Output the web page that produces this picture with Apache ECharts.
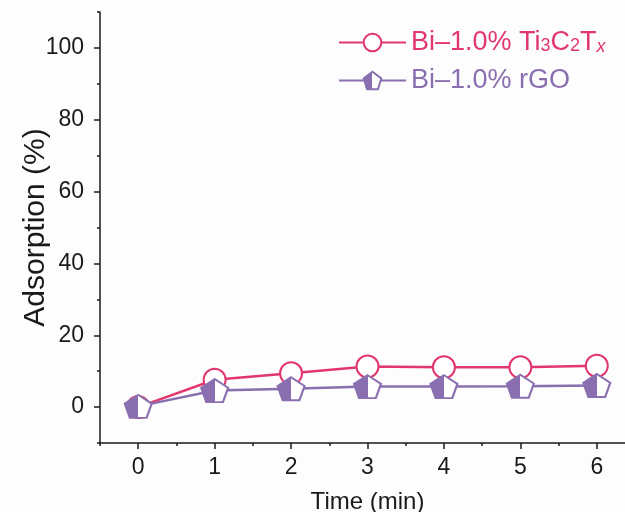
<!DOCTYPE html>
<html>
<head>
<meta charset="utf-8">
<script src="https://cdn.jsdelivr.net/npm/echarts@6/dist/echarts.min.js"></script>
<style>
  html, body { margin: 0; padding: 0; background: #fdfdfd; }
  #chart { width: 625px; height: 512px; }
</style>
</head>
<body>
<div id="chart"></div>
<script>
var timeMin = [0, 1, 2, 3, 4, 5, 6];
var tiValues = [0, 7.6, 9.4, 11.3, 11.1, 11.1, 11.5];
var rgoValues = [0.2, 4.6, 5.1, 5.7, 5.7, 5.8, 6.0];
var yMajorTicks = [0, 20, 40, 60, 80, 100];
var xMajorTicks = [0, 1, 2, 3, 4, 5, 6];

var red = '#e2366f';
var purple = '#8a6fb0';
var axisColor = '#1a1a1a';
var font = 'Liberation Sans, Arial, sans-serif';
var pentagon = 'path://M0,-1L0.951,-0.309L0.588,0.809L-0.588,0.809L-0.951,-0.309Z';

var G = { left: 100, top: 12, width: 535, height: 431 };
var X_MIN = -0.5, X_MAX = 6.5, Y_MIN = -10, Y_MAX = 110;

function pairs(xs, ys) {
    return xs.map(function (x, i) { return [x, ys[i]]; });
}

// the main axes carry the short ticks (they start at min); a second grid that
// covers only 0..6 / 0..100 carries the long ticks at the labelled values
var px = G.width / (X_MAX - X_MIN);
var py = G.height / (Y_MAX - Y_MIN);
var xFirst = xMajorTicks[0], xLast = xMajorTicks[xMajorTicks.length - 1];
var yFirst = yMajorTicks[0], yLast = yMajorTicks[yMajorTicks.length - 1];
var tickGrid = {
    left: G.left + (xFirst - X_MIN) * px,
    width: (xLast - xFirst) * px,
    top: G.top + (Y_MAX - yLast) * py,
    height: (yLast - yFirst) * py,
    containLabel: false,
    outerBoundsMode: 'none'
};
var longTick = { show: true, length: 6, lineStyle: { color: axisColor, width: 1.5 } };

var chart = echarts.init(document.getElementById('chart'));
chart.setOption({
    backgroundColor: '#fdfdfd',
    animation: false,
    textStyle: { fontFamily: font },
    grid: [
        Object.assign({ containLabel: false, outerBoundsMode: 'none' }, G),
        tickGrid
    ],
    legend: {
        orient: 'vertical',
        left: 333,
        top: 24,
        itemWidth: 67,
        itemHeight: 22,
        itemGap: 11,
        data: [
            { name: 'ti', textStyle: { color: red } },
            { name: 'rgo', textStyle: { color: purple } }
        ],
        formatter: function (name) {
            if (name === 'ti') return '{t|Bi–1.0% Ti}{s|3}{t|C}{s|2}{t|T}{i|x}';
            return '{t|Bi–1.0% rGO}';
        },
        textStyle: {
            fontFamily: font,
            fontSize: 27,
            rich: {
                t: { fontSize: 27, fontFamily: font },
                s: { fontSize: 18, fontFamily: font, padding: [8, 0, 0, 0] },
                i: { fontSize: 18, fontFamily: font, fontStyle: 'italic', padding: [8, 0, 0, 0] }
            }
        }
    },
    xAxis: [{
        type: 'value',
        gridIndex: 0,
        min: X_MIN,
        max: X_MAX,
        interval: 1,
        name: 'Time (min)',
        nameLocation: 'middle',
        nameGap: 47,
        nameMoveOverlap: false,
        nameTextStyle: { fontSize: 24, color: axisColor, fontFamily: font },
        axisLine: { show: true, onZero: false, lineStyle: { color: axisColor, width: 1.5 } },
        axisTick: { show: true, length: 3, lineStyle: { color: axisColor, width: 1.5 } },
        axisLabel: { customValues: xMajorTicks, fontSize: 23, color: axisColor, margin: 13 },
        splitLine: { show: false }
    }, {
        type: 'value',
        gridIndex: 1,
        min: xFirst,
        max: xLast,
        interval: 1,
        position: 'bottom',
        offset: (yFirst - Y_MIN) * py,
        axisLine: { show: false, onZero: false },
        axisTick: longTick,
        axisLabel: { show: false },
        splitLine: { show: false }
    }],
    yAxis: [{
        type: 'value',
        gridIndex: 0,
        min: Y_MIN,
        max: Y_MAX,
        interval: 20,
        name: 'Adsorption (%)',
        nameLocation: 'middle',
        nameGap: 49,
        nameMoveOverlap: false,
        nameTextStyle: { fontSize: 30, color: axisColor, fontFamily: font },
        axisLine: { show: true, onZero: false, lineStyle: { color: axisColor, width: 1.5 } },
        axisTick: { show: true, length: 3, lineStyle: { color: axisColor, width: 1.5 } },
        axisLabel: { customValues: yMajorTicks, fontSize: 23, color: axisColor, margin: 16 },
        splitLine: { show: false }
    }, {
        type: 'value',
        gridIndex: 1,
        min: yFirst,
        max: yLast,
        interval: 20,
        position: 'left',
        offset: (xFirst - X_MIN) * px,
        axisLine: { show: false, onZero: false },
        axisTick: longTick,
        axisLabel: { show: false },
        splitLine: { show: false }
    }],
    series: [{
        name: 'ti',
        type: 'line',
        xAxisIndex: 0,
        yAxisIndex: 0,
        data: pairs(timeMin, tiValues),
        symbol: 'circle',
        symbolSize: 22,
        lineStyle: { color: red, width: 2.5 },
        itemStyle: { color: '#ffffff', borderColor: red, borderWidth: 2 },
        z: 2
    }, {
        name: 'rgo',
        type: 'line',
        xAxisIndex: 0,
        yAxisIndex: 0,
        data: pairs(timeMin, rgoValues),
        symbol: pentagon,
        symbolSize: [27, 23],
        lineStyle: { color: purple, width: 2.5 },
        itemStyle: {
            color: {
                type: 'linear', x: 0, y: 0, x2: 1, y2: 0,
                colorStops: [
                    { offset: 0, color: purple },
                    { offset: 0.5, color: purple },
                    { offset: 0.5, color: '#ffffff' },
                    { offset: 1, color: '#ffffff' }
                ]
            },
            borderColor: purple,
            borderWidth: 2
        },
        z: 3
    }]
});
</script>
</body>
</html>
